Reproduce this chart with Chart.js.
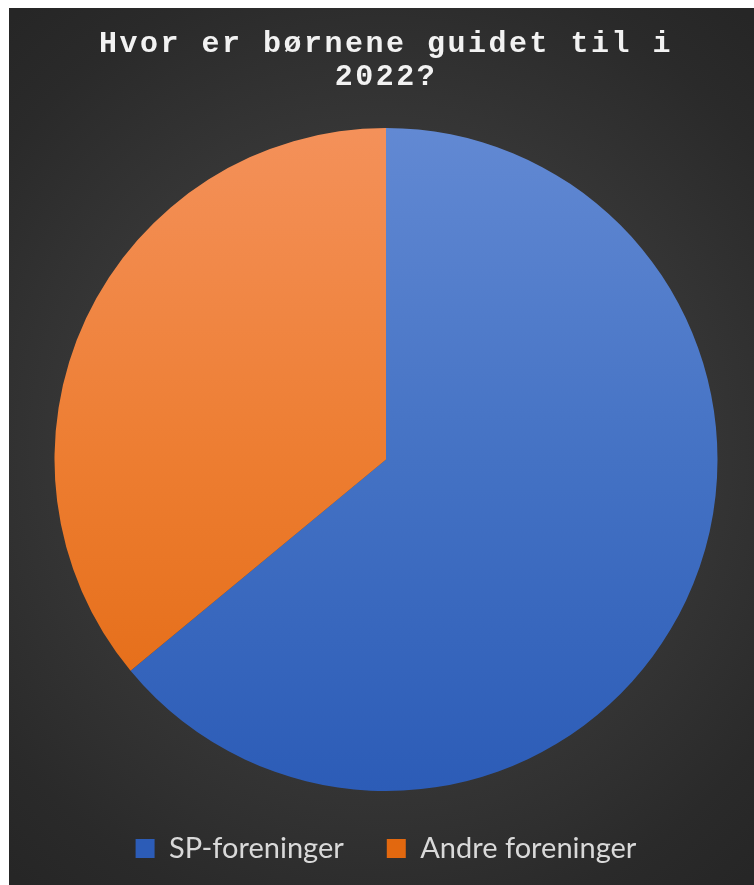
<!DOCTYPE html>
<html>
<head>
<meta charset="utf-8">
<script src="https://cdn.jsdelivr.net/npm/chart.js@4.4.1/dist/chart.umd.min.js"></script>
<style>
  html, body { margin: 0; padding: 0; background: #ffffff; }
  #wrap {
    position: absolute; left: 9px; top: 8px; width: 745px; height: 877px;
    background: radial-gradient(ellipse 75% 65% at 50% 50%, #4a4a4a 0%, #3a3a3a 45%, #2a2a2a 85%, #262626 100%);
  }
  canvas { display: block; }
</style>
</head>
<body>
<div id="wrap"><canvas id="pie" width="745" height="877"></canvas></div>
<script>
// data
const labels = ['SP-foreninger', 'Andre foreninger'];
const values = [64, 36];
const titleLines = ['Hvor er børnene guidet til i', '2022?'];

// top / middle / bottom tones of each slice
const shades = [
    ['#6289d3', '#4472c4', '#2c5cb7'],
    ['#f4915a', '#ed7d31', '#e2680f']
];

function sliceColor(context) {
    const chart = context.chart;
    const area = chart.chartArea;
    const s = shades[context.dataIndex] || shades[0];
    if (!area) return s[1];
    const g = chart.ctx.createLinearGradient(0, area.top, 0, area.bottom);
    g.addColorStop(0, s[0]);
    g.addColorStop(0.5, s[1]);
    g.addColorStop(1, s[2]);
    return g;
}

// spread the title letters out a bit like the original
const titleSpacing = {
    id: 'titleSpacing',
    afterInit(chart) {
        const tb = chart.titleBlock;
        if (!tb) return;
        const orig = tb.draw.bind(tb);
        tb.draw = function() {
            const ctx = chart.ctx;
            const prev = ctx.letterSpacing;
            if (prev !== undefined) ctx.letterSpacing = '2.5px';
            orig();
            if (prev !== undefined) ctx.letterSpacing = prev;
        };
    }
};

const ctx = document.getElementById('pie').getContext('2d');
new Chart(ctx, {
    type: 'pie',
    data: {
        labels: labels,
        datasets: [{
            data: values,
            backgroundColor: sliceColor,
            borderWidth: 0
        }]
    },
    options: {
        responsive: false,
        devicePixelRatio: 1,
        animation: false,
        layout: { padding: { left: 9, right: 0, top: 0, bottom: 12 } },
        plugins: {
            title: {
                display: true,
                text: titleLines,
                color: '#f2f2f2',
                font: { family: '"Liberation Mono", "Courier New", monospace', size: 30, weight: 'bold', lineHeight: 1.1 },
                padding: { top: 20, bottom: 34 }
            },
            legend: {
                position: 'bottom',
                labels: {
                    color: '#d9d9d9',
                    font: { family: 'Lato, "Open Sans", sans-serif', size: 29 },
                    boxWidth: 19,
                    boxHeight: 19,
                    padding: 43
                }
            },
            tooltip: { enabled: false }
        }
    },
    plugins: [titleSpacing]
});
</script>
</body>
</html>
